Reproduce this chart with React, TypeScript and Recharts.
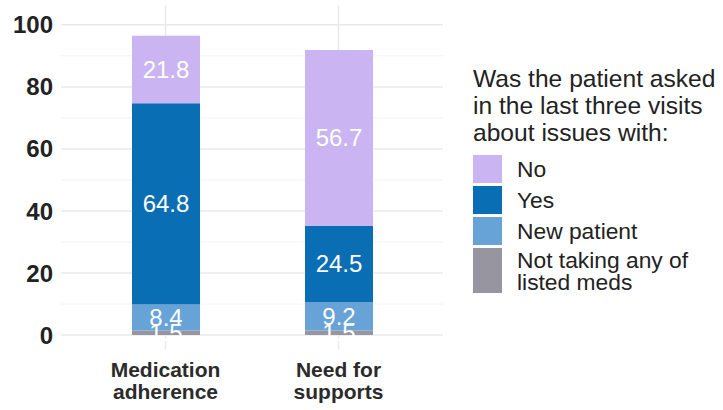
import React from "react";
import { BarChart, Bar, XAxis, YAxis, CartesianGrid, LabelList, Legend } from "recharts";

const categories = ["Medication adherence", "Need for supports"];
const categoryLines = [["Medication", "adherence"], ["Need for", "supports"]];
const noValues = [21.8, 56.7];
const yesValues = [64.8, 24.5];
const newPatientValues = [8.4, 9.2];
const notTakingValues = [1.5, 1.5];
const yTicks = [0, 20, 40, 60, 80, 100];
const yMinorTicks = [10, 30, 50, 70, 90];

const legendTitle = ["Was the patient asked", "in the last three visits", "about issues with:"];
const legendItems = [
  { label: ["No"], color: "#CAB5F2" },
  { label: ["Yes"], color: "#0A6EB4" },
  { label: ["New patient"], color: "#68A3D8" },
  { label: ["Not taking any of", "listed meds"], color: "#97959F" },
];

const data = categories.map((c, i) => ({
  category: c,
  notTaking: notTakingValues[i],
  newPatient: newPatientValues[i],
  yes: yesValues[i],
  no: noValues[i],
}));

const FONT = "'Liberation Sans', Arial, sans-serif";

const XTick = (props: any) => {
  const { x, y, payload } = props;
  const idx = categories.indexOf(payload.value);
  const lines = idx >= 0 ? categoryLines[idx] : [payload.value];
  return (
    <text x={x} y={y} textAnchor="middle" fontFamily={FONT} fontSize={21} fontWeight="bold" fill="#2b2b2b">
      {lines.map((l: string, i: number) => (
        <tspan key={i} x={x} dy={i === 0 ? 19 : 21.5}>
          {l}
        </tspan>
      ))}
    </text>
  );
};

const renderLegend = () => (
  <div style={{ fontFamily: FONT, color: "#222" }}>
    <div style={{ fontSize: 24.6, lineHeight: "27px", whiteSpace: "nowrap" }}>
      {legendTitle.map((t, i) => (
        <div key={i}>{t}</div>
      ))}
    </div>
    <div style={{ marginTop: 9 }}>
      {legendItems.map((it, i) => (
        <div key={i} style={{ display: "flex", alignItems: "center", marginBottom: 3 }}>
          <div
            style={{
              width: 29,
              height: it.label.length > 1 ? 45 : 28,
              background: it.color,
              flex: "0 0 auto",
            }}
          />
          <div style={{ marginLeft: 15, fontSize: 22.8, lineHeight: "22px", whiteSpace: "nowrap" }}>
            {it.label.map((l, j) => (
              <div key={j}>{l}</div>
            ))}
          </div>
        </div>
      ))}
    </div>
  </div>
);

const labelProps = { position: "center" as const, fill: "#ffffff", fontSize: 24, fontFamily: FONT };

export default function App() {
  return (
    <div style={{ position: "absolute", left: 0, top: 0, width: 723, height: 410, background: "#fff" }}>
      <BarChart width={723} height={410} data={data} margin={{ top: 5, right: 280, bottom: 0, left: 0 }}>
        <CartesianGrid horizontalValues={yMinorTicks} vertical={false} syncWithTicks stroke="#F3F3F3" strokeWidth={1} />
        <CartesianGrid horizontalValues={yTicks} syncWithTicks stroke="#EAEAEA" strokeWidth={1.5} />
        <XAxis
          dataKey="category"
          axisLine={false}
          tickLine={false}
          height={60}
          padding={{ left: 18, right: 18 }}
          tick={<XTick />}
          interval={0}
        />
        <YAxis
          type="number"
          domain={[-4.8, 106.4]}
          ticks={yTicks}
          axisLine={false}
          tickLine={false}
          width={61}
          tick={{ fontSize: 24, fontWeight: "bold", fill: "#222", fontFamily: FONT }}
          allowDataOverflow
        />
        <Legend
          layout="vertical"
          align="center"
          verticalAlign="middle"
          content={renderLegend}
          wrapperStyle={{ left: 473, top: 65, width: 250 }}
        />
        <Bar dataKey="notTaking" stackId="a" fill="#97959F" barSize={68} isAnimationActive={false}>
          <LabelList dataKey="notTaking" {...labelProps} />
        </Bar>
        <Bar dataKey="newPatient" stackId="a" fill="#68A3D8" barSize={68} isAnimationActive={false}>
          <LabelList dataKey="newPatient" {...labelProps} />
        </Bar>
        <Bar dataKey="yes" stackId="a" fill="#0A6EB4" barSize={68} isAnimationActive={false}>
          <LabelList dataKey="yes" {...labelProps} />
        </Bar>
        <Bar dataKey="no" stackId="a" fill="#CAB5F2" barSize={68} isAnimationActive={false}>
          <LabelList dataKey="no" {...labelProps} />
        </Bar>
      </BarChart>
    </div>
  );
}
